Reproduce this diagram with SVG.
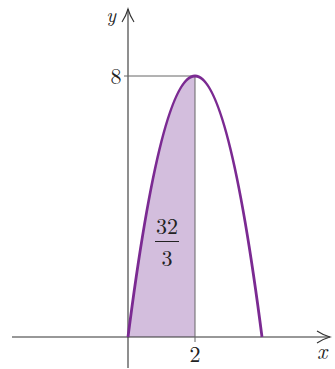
<svg xmlns="http://www.w3.org/2000/svg" width="335" height="369" viewBox="0 0 335 369">
<style>
.ax{stroke:#333;stroke-width:1.1;fill:none}
.guide{stroke:#666;stroke-width:1;fill:none}
.t{font-family:"Latin Modern Roman","DejaVu Serif","Liberation Serif",serif;fill:#222;font-size:22px}
.i{font-style:italic}
</style>
<rect width="335" height="369" fill="#fff"/>
<g id="region">
<path d="M128,337 Q161.5,76 195,76 L195,337 Z" fill="#d3bedd"/>
</g>
<g id="connectors">
<line class="ax" x1="12" y1="337" x2="330" y2="337"/>
<path class="ax" d="M317,331 Q323,335 330,337 Q323,339 317,343"/>
<line class="ax" x1="128" y1="368" x2="128" y2="9"/>
<path class="ax" d="M122,22 Q126,16 128,9 Q130,16 134,22"/>
<line class="guide" x1="124" y1="76" x2="195" y2="76"/>
<line class="guide" x1="195" y1="76" x2="195" y2="342"/>
</g>
<g id="curve">
<path d="M128,337 Q195,-185 262,337" fill="none" stroke="#7b2a92" stroke-width="2.8"/>
</g>
<g id="labels">
<text class="t i" x="111" y="22" text-anchor="middle" style="font-size:20px">y</text>
<text class="t" x="116" y="84" text-anchor="middle">8</text>
<text class="t" x="195" y="362" text-anchor="middle">2</text>
<text class="t i" x="322" y="359" text-anchor="middle">x</text>
<text class="t" x="167" y="234" text-anchor="middle">32</text>
<line x1="155" y1="241.5" x2="179" y2="241.5" stroke="#222" stroke-width="1"/>
<text class="t" x="167" y="266" text-anchor="middle">3</text>
</g>
</svg>
